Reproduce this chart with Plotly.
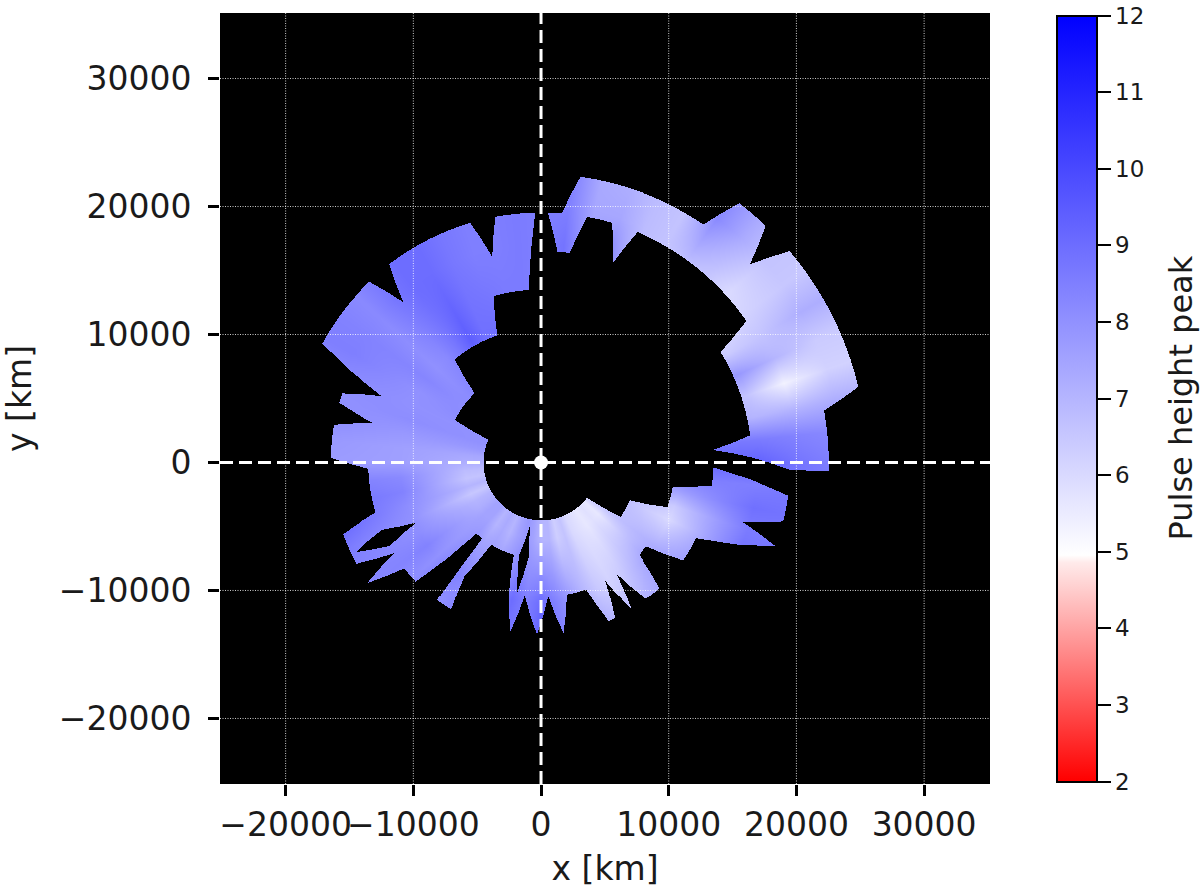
"""Pulse height peak map around the origin, from a polar table of readings."""

import numpy as np
import plotly.graph_objects as go

# ray angles [deg] of the table, one reading per ray at each radius
THETA = list(range(0, 360, 6))
RADII = [6000, 11000, 17000, 20000, 23500]  # km

PEAK_R6 = [8.0, 8.0, 7.6, 7.0, 7.8, 7.2, 6.6, 6.4, 6.6, 6.4,
           6.6, 7.0, 8.0, 7.6, 8.6, 8.6, 8.8, 8.8, 8.8, 8.8,
           8.8, 8.6, 8.4, 8.2, 8.0, 8.2, 8.0, 8.0, 7.8, 7.4,
           7.2, 6.8, 6.6, 7.0, 6.5, 7.0, 7.2, 7.5, 7.5, 7.0,
           7.3, 7.0, 7.5, 7.8, 7.5, 7.0, 7.0, 6.3, 6.6, 6.0,
           5.8, 5.6, 5.8, 5.6, 6.5, 6.8, 7.0, 7.0, 7.5, 7.5]
PEAK_R11 = [9.0, 8.8, 7.8, 7.2, 8.2, 7.4, 6.8, 6.6, 6.8, 6.4,
            6.8, 7.0, 8.2, 7.6, 8.6, 8.4, 8.6, 8.7, 8.9, 8.9,
            9.4, 8.7, 8.2, 8.0, 8.3, 8.0, 8.0, 8.1, 7.8, 7.6,
            7.6, 8.2, 8.4, 8.1, 8.0, 8.1, 8.4, 8.0, 8.5, 8.4,
            8.0, 8.3, 8.2, 9.0, 8.5, 9.0, 8.4, 7.8, 7.0, 6.5,
            6.2, 6.5, 7.0, 7.5, 7.2, 6.6, 6.0, 6.4, 7.5, 8.5]
PEAK_R17 = [9.3, 8.6, 7.0, 6.6, 7.8, 6.4, 5.9, 5.8, 6.2, 5.8,
            6.3, 6.8, 8.3, 7.6, 8.8, 8.5, 8.6, 8.5, 8.5, 8.7,
            9.0, 9.0, 8.7, 8.2, 8.4, 8.5, 8.2, 8.0, 8.1, 7.8,
            7.7, 8.6, 9.0, 9.2, 8.6, 8.4, 8.3, 8.2, 8.5, 7.5,
            9.0, 8.5, 8.5, 8.5, 8.5, 10.0, 8.8, 8.5, 8.0, 7.8,
            7.5, 7.6, 7.8, 7.8, 8.2, 8.5, 8.8, 8.6, 8.9, 8.5]
PEAK_R20 = [8.8, 8.4, 7.0, 5.3, 7.0, 6.6, 6.2, 6.0, 6.6, 7.0,
            6.6, 6.8, 7.4, 7.4, 8.5, 8.5, 8.6, 8.5, 8.5, 8.7,
            9.0, 9.0, 8.7, 8.2, 8.4, 8.5, 8.2, 8.0, 8.1, 7.8,
            7.7, 8.6, 9.0, 9.2, 8.6, 8.4, 8.3, 8.2, 8.5, 7.5,
            9.0, 8.5, 8.5, 8.5, 8.5, 10.0, 8.8, 8.5, 8.0, 7.8,
            7.5, 7.6, 7.8, 7.8, 8.2, 8.5, 8.8, 8.6, 8.8, 8.7]
PEAK_R23 = [8.4, 8.2, 7.2, 6.2, 6.4, 7.2, 6.5, 6.6, 7.3, 8.2,
            6.6, 6.8, 7.1, 7.3, 8.5, 8.5, 8.6, 8.5, 8.5, 8.7,
            9.0, 9.0, 8.7, 8.2, 8.4, 8.5, 8.2, 8.0, 8.1, 7.8,
            7.7, 8.6, 9.0, 9.2, 8.6, 8.4, 8.3, 8.2, 8.5, 7.5,
            9.0, 8.5, 8.5, 8.5, 8.5, 10.0, 8.8, 8.5, 8.0, 7.8,
            7.5, 7.6, 7.8, 7.8, 8.2, 8.5, 8.8, 8.6, 8.8, 8.8]

# outline of the covered area as (angle deg, radius km)
NORTH_EAST_LOBE = [
    (-1.7, 22500), (10.4, 22500), (13.4, 25500), (40.3, 25500), (43.4, 22500),
    (46.4, 25500), (52.5, 25500), (55.6, 22500), (82.2, 22500), (85.3, 19500),
    (88.5, 19500), (85.6, 16500), (82.3, 16500), (79.4, 19500), (73.5, 19500),
    (70.3, 16500), (67.3, 19500), (34.5, 19500), (31.5, 16500), (7.4, 16500),
    (4.2, 13500), (1.4, 16500), (-1.7, 19500),
]
MAIN_LOBE = [
    (91.4, 19500), (100.6, 19500), (103.4, 16500), (106.5, 19500), (127.5, 19500),
    (130.7, 16500), (133.6, 19500), (151.6, 19500), (157.4, 13500), (160.9, 16500),
    (163.6, 16500), (166.8, 13500), (169.7, 16500), (178.7, 16500), (182.1, 13500),
    (196.7, 13500), (199.8, 16500), (208.6, 16500), (211.6, 13500), (214.7, 16500),
    (217.7, 13500), (223.5, 13500), (227.6, 7500), (232.1, 7500), (232.9, 13500),
    (238.6, 13500), (236.0, 10700), (238.7, 7500), (253.4, 7500), (256.1, 10500),
    (259.7, 13500), (263.0, 10500), (268.6, 13500), (273.0, 10500), (277.4, 13500),
    (281.0, 10500), (289.4, 10500), (292.9, 13500), (295.3, 13500), (298.4, 10500),
    (301.5, 13500), (304.1, 10500), (307.6, 13500), (313.5, 13500), (316.8, 10500),
    (321.6, 10500), (325.6, 13500), (334.1, 13500), (340.4, 19500), (343.6, 16500),
    (346.4, 19500), (352.4, 19500), (358.4, 13500), (352.4, 13500), (349.4, 10500),
    (340.7, 10500), (336.9, 7500), (325.6, 7500), (322.3, 4500), (156.7, 4500),
    (153.8, 7500), (133.9, 7500), (130.0, 10500), (109.1, 10500), (106.0, 13500),
    (94.2, 13500),
]
HOLE_A = [(205.7, 16100), (202.9, 13500), (205.6, 10800), (208.8, 13500)]
HOLE_B = [(260.0, 4900), (256.5, 7500), (259.5, 10300), (262.4, 7500)]

GRID_TICKS = [-20000, -10000, 0, 10000, 20000, 30000]
CBAR_TICKS = [2, 3, 4, 5, 6, 7, 8, 9, 10, 11, 12]
FONT = "DejaVu Sans"
INK = "#1a1a1a"


def outline_xy(vertices):
    """Vertices to x, y; two vertices at one radius are joined by an arc."""
    xs, ys = [], []
    for i, (t0, r0) in enumerate(vertices):
        t1, r1 = vertices[(i + 1) % len(vertices)]
        n = max(2, int(abs(t1 - t0))) if r0 == r1 else 2
        tt = np.radians(np.linspace(t0, t1, n, endpoint=False))
        rr = np.linspace(r0, r1, n, endpoint=False)
        xs.extend(rr * np.cos(tt))
        ys.extend(rr * np.sin(tt))
    return np.array(xs), np.array(ys)


def inside(px, py, vertices):
    """Even-odd test of grid points against one outline."""
    vx, vy = outline_xy(vertices)
    res = np.zeros(px.shape, dtype=bool)
    for x0, y0, x1, y1 in zip(vx, vy, np.roll(vx, -1), np.roll(vy, -1)):
        if y0 == y1:
            continue
        crosses = (y0 > py) != (y1 > py)
        res ^= crosses & (px < x0 + (py - y0) * (x1 - x0) / (y1 - y0))
    return res


def shade(px, py):
    """Look the table up at each grid point, blending between rays and radii."""
    table = np.array([PEAK_R6, PEAK_R11, PEAK_R17, PEAK_R20, PEAK_R23])
    theta = np.degrees(np.arctan2(py, px)) % 360
    r = np.hypot(px, py)
    step = THETA[1] - THETA[0]
    i0 = (theta // step).astype(int) % len(THETA)
    i1 = (i0 + 1) % len(THETA)
    ft = theta / step - theta // step
    j = np.clip(np.searchsorted(RADII, r) - 1, 0, len(RADII) - 2)
    fr = np.clip((r - np.take(RADII, j)) / (np.take(RADII, j + 1) - np.take(RADII, j)), 0, 1)
    inner = table[j, i0] * (1 - ft) + table[j, i1] * ft
    outer = table[j + 1, i0] * (1 - ft) + table[j + 1, i1] * ft
    return inner * (1 - fr) + outer * fr


grid_x = np.arange(-18000, 26000, 78.0)
grid_y = np.arange(-14500, 23000, 78.0)
px, py = np.meshgrid(grid_x, grid_y)
covered = inside(px, py, NORTH_EAST_LOBE) | (
    inside(px, py, MAIN_LOBE) ^ inside(px, py, HOLE_A) ^ inside(px, py, HOLE_B)
)
peak = np.where(covered, shade(px, py), np.nan)

fig = go.Figure()
fig.add_trace(go.Heatmap(
    x=grid_x, y=grid_y, z=peak,
    zmin=2, zmax=12,
    colorscale=[[0.0, "#ff0000"], [0.285, "#ffeaea"], [0.295, "#ffffff"], [1.0, "#0000ff"]],
    hoverongaps=False,
    colorbar=dict(
        x=(1057 - 220) / 770, xanchor="left", xpad=0,
        y=0.5, ypad=0, lenmode="pixels", len=766, thickness=40,
        outlinecolor="black", outlinewidth=2,
        tickvals=CBAR_TICKS, ticks="outside", ticklen=13, tickwidth=2, tickcolor="black",
        tickfont=dict(family=FONT, size=23, color=INK),
    ),
))

# grid sits on top of the field in the original, so use shapes and not axis grid
for v in GRID_TICKS:
    if v == 0:
        continue
    fig.add_vline(x=v, line=dict(color="rgba(255,255,255,0.8)", width=1, dash="1px,1.5px"))
    fig.add_hline(y=v, line=dict(color="rgba(255,255,255,0.8)", width=1, dash="1px,1.5px"))
fig.add_vline(x=0, line=dict(color="white", width=3, dash="13px,6px"))
fig.add_hline(y=0, line=dict(color="white", width=3, dash="13px,6px"))

fig.add_trace(go.Scatter(
    x=[0], y=[0], mode="markers", showlegend=False,
    marker=dict(color="white", size=14),
))

axis_style = dict(
    tickvals=GRID_TICKS, tickformat="d", tickangle=0, automargin=False,
    showgrid=False, zeroline=False, ticks="outside",
    ticklen=11, tickwidth=2.5, tickcolor="black",
    tickfont=dict(family=FONT, size=33, color=INK),
)
fig.update_xaxes(range=[-25140, 35160],
                 title=dict(text="x [km]", font=dict(family=FONT, size=33, color=INK), standoff=14),
                 **axis_style)
fig.update_yaxes(range=[-25120, 35120], ticklabelstandoff=10,
                 title=dict(text="y [km]", font=dict(family=FONT, size=33, color=INK), standoff=22),
                 **axis_style)

# colorbar titles hug the tick labels; the original sits further out
fig.add_annotation(
    text="Pulse height peak", xref="paper", yref="paper",
    x=(1180 - 220) / 770, y=0.5, xanchor="center", yanchor="middle",
    textangle=-90, showarrow=False,
    font=dict(family=FONT, size=32, color=INK),
)
fig.update_layout(
    width=1200, height=896,
    margin=dict(l=220, r=210, t=13, b=112),
    plot_bgcolor="black", paper_bgcolor="white",
    showlegend=False,
)

# the page's default body margin would push the chart 8px off
fig.write_html("out.html", config=dict(displayModeBar=False),
               post_script="document.body.style.margin = '0';")
